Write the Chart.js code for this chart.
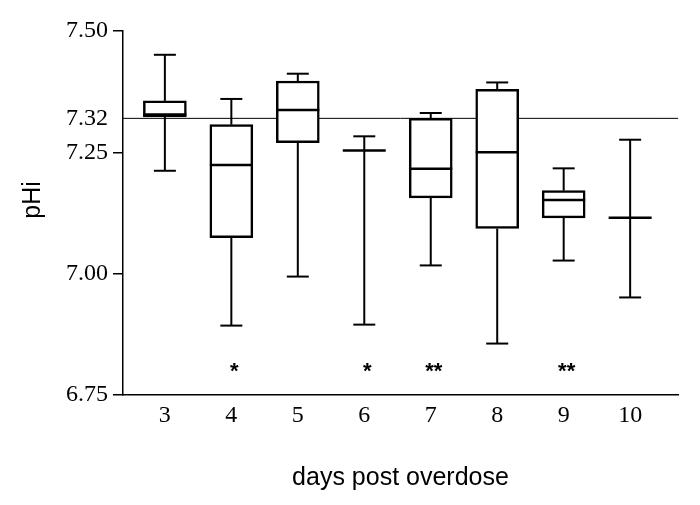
<!DOCTYPE html>
<html><head><meta charset="utf-8">
<script src="https://cdn.jsdelivr.net/npm/chart.js@4"></script>
<style>html,body{margin:0;padding:0;background:#fff}#wrap{width:700px;height:505px;position:relative}</style>
</head><body><div id="wrap"><canvas id="c"></canvas></div>
<script>
// ---- data ----
const days        = [3, 4, 5, 6, 7, 8, 9, 10];
const whiskerHigh = [7.451, 7.360, 7.412, 7.283, 7.331, 7.394, 7.217, 7.276];
const q3          = [7.356, 7.307, 7.397, 7.254, 7.320, 7.380, 7.171, 7.115];
const median      = [7.328, 7.224, 7.337, 7.254, 7.216, 7.250, 7.152, 7.115];
const q1          = [7.323, 7.074, 7.270, 7.254, 7.156, 7.093, 7.115, 7.115];
const whiskerLow  = [7.212, 6.893, 6.994, 6.895, 7.017, 6.856, 7.027, 6.951];
const significance = ['', '*', '', '*', '**', '', '**', ''];
const significanceLevel = 6.81;
const yTicks = [6.75, 7.00, 7.25, 7.32, 7.50];
const referenceValue = 7.32;
const X_MIN = 2.37, X_MAX = 10.72;
const Y_MIN = 6.75, Y_MAX = 7.50;

// ---- styles ----
const BOX_WIDTH = 43, CAP_WIDTH = 22;

const boxData = days.map((d, i) => q1[i] === q3[i] ? null : {x: d, y: [q1[i], q3[i]]}).filter(Boolean);

const boxPlugin = {
  id: 'boxParts',
  beforeDatasetsDraw(chart) {
    const {ctx, chartArea, scales: {y}} = chart;
    const py = y.getPixelForValue(referenceValue);
    ctx.save();
    ctx.strokeStyle = '#000'; ctx.lineWidth = 1;
    ctx.beginPath(); ctx.moveTo(chartArea.left, py); ctx.lineTo(chartArea.right, py); ctx.stroke();
    ctx.restore();
  },
  afterDatasetsDraw(chart) {
    const {ctx, scales: {x, y}} = chart;
    const seg = (x1, y1, x2, y2) => { ctx.beginPath(); ctx.moveTo(x1, y1); ctx.lineTo(x2, y2); ctx.stroke(); };
    ctx.save();
    ctx.strokeStyle = '#000'; ctx.lineCap = 'butt';
    days.forEach((d, i) => {
      const px = x.getPixelForValue(d);
      const yh = y.getPixelForValue(whiskerHigh[i]);
      const yl = y.getPixelForValue(whiskerLow[i]);
      ctx.lineWidth = 2;
      seg(px, y.getPixelForValue(q3[i]), px, yh);
      seg(px, y.getPixelForValue(q1[i]), px, yl);
      seg(px - CAP_WIDTH / 2, yh, px + CAP_WIDTH / 2, yh);
      seg(px - CAP_WIDTH / 2, yl, px + CAP_WIDTH / 2, yl);
      ctx.lineWidth = 2.5;
      const ym = y.getPixelForValue(median[i]);
      seg(px - BOX_WIDTH / 2, ym, px + BOX_WIDTH / 2, ym);
      if (significance[i]) {
        ctx.fillStyle = '#000';
        ctx.font = 'bold 22px "Liberation Sans"';
        ctx.textAlign = 'center'; ctx.textBaseline = 'alphabetic';
        ctx.fillText(significance[i], px + 3, y.getPixelForValue(significanceLevel) + 0.57 * 22);
      }
    });
    // y-axis title
    ctx.fillStyle = '#000';
    ctx.font = '25px "Liberation Sans"';
    ctx.translate(33, 200); ctx.rotate(-Math.PI / 2);
    ctx.textAlign = 'center'; ctx.textBaseline = 'middle';
    ctx.fillText('pHi', 0, 0);
    ctx.restore();
  }
};

new Chart(document.getElementById('c'), {
  type: 'bar',
  data: {
    datasets: [{
      data: boxData,
      backgroundColor: '#fff',
      borderColor: '#000',
      borderWidth: 2.5,
      borderSkipped: false,
      barThickness: BOX_WIDTH
    }]
  },
  options: {
    responsive: true, maintainAspectRatio: false, animation: false,
    layout: {padding: {left: 0, right: 22, top: 31, bottom: 0}},
    plugins: {legend: {display: false}, tooltip: {enabled: false}},
    scales: {
      x: {
        type: 'linear', min: X_MIN, max: X_MAX, offset: false,
        afterBuildTicks: s => { s.ticks = days.map(v => ({value: v})); },
        ticks: {color: '#000', font: {family: 'Liberation Serif', size: 24}, padding: 6, autoSkip: false, maxRotation: 0, callback: v => String(v)},
        grid: {display: false, drawTicks: false},
        border: {display: true, color: '#000', width: 1.5},
        title: {display: true, text: 'days post overdose', color: '#000', font: {family: 'Liberation Sans', size: 25}, padding: {top: 0, bottom: 12}},
        afterFit: s => { s.height = 110; }
      },
      y: {
        min: Y_MIN, max: Y_MAX,
        afterBuildTicks: s => { s.ticks = yTicks.map(v => ({value: v})); },
        ticks: {color: '#000', font: {family: 'Liberation Serif', size: 24}, padding: 5, autoSkip: false, callback: v => Number(v).toFixed(2)},
        grid: {drawOnChartArea: false, drawTicks: true, tickLength: 10, lineWidth: 1.5,
               color: c => (c.tick && c.tick.value === referenceValue) ? 'rgba(0,0,0,0)' : '#000'},
        border: {display: true, color: '#000', width: 1.5},
        afterFit: s => { s.width = 123; }
      }
    }
  },
  plugins: [boxPlugin]
});
</script>
</body></html>
